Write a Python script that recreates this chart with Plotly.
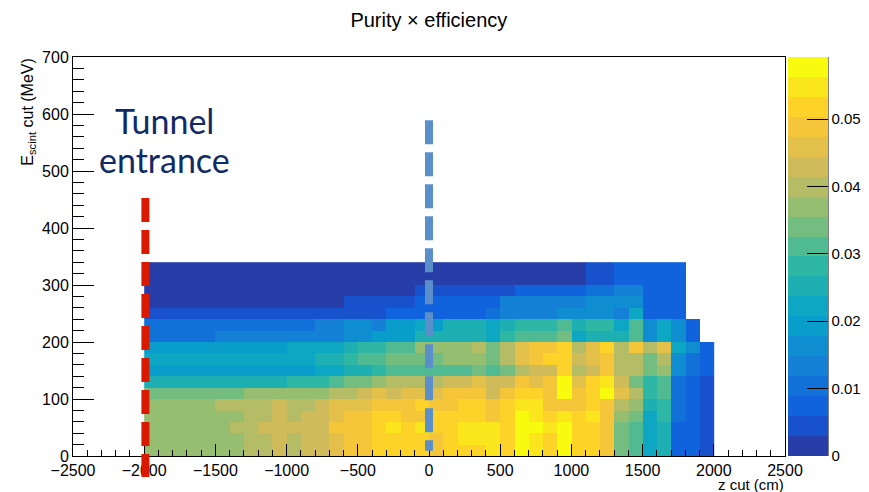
import plotly.graph_objects as go

# ---- bins ----
z_edges = [-2000 + 100 * i for i in range(41)]      # z cut (cm), 100 cm bins
e_edges = [20 * i for i in range(18)]               # E_scint cut (MeV), 20 MeV bins

x_tick_vals = [-2500, -2000, -1500, -1000, -500, 0, 500, 1000, 1500, 2000, 2500]
x_tick_text = ["\u22122500", "\u22122000", "\u22121500", "\u22121000", "\u2212500",
               "0", "500", "1000", "1500", "2000", "2500"]
y_tick_vals = [0, 100, 200, 300, 400, 500, 600, 700]
y_tick_text = ["0", "100", "200", "300", "400", "500", "600", "700"]
cb_tick_vals = [0, 0.01, 0.02, 0.03, 0.04, 0.05]
cb_tick_text = ["0", "0.01", "0.02", "0.03", "0.04", "0.05"]

N = None
# purity x efficiency, rows = E bins (bottom to top), cols = z bins (left to right)
purity_eff = [
    # E 0-20
    [0.0370, 0.0370, 0.0370, 0.0370, 0.0370, 0.0370, 0.0370, 0.0400,
     0.0400, 0.0429, 0.0400, 0.0429, 0.0429, 0.0459, 0.0488, 0.0488,
     0.0518, 0.0518, 0.0518, 0.0518, 0.0488, 0.0518, 0.0518, 0.0518,
     0.0548, 0.0518, 0.0577, 0.0548, 0.0518, 0.0577, 0.0518, 0.0518,
     0.0488, 0.0340, 0.0311, 0.0222, 0.0252, 0.0074, 0.0074, 0.0044],
    # E 20-40
    [0.0370, 0.0370, 0.0370, 0.0370, 0.0370, 0.0370, 0.0370, 0.0400,
     0.0400, 0.0429, 0.0400, 0.0429, 0.0429, 0.0459, 0.0488, 0.0488,
     0.0518, 0.0518, 0.0518, 0.0518, 0.0488, 0.0518, 0.0548, 0.0548,
     0.0548, 0.0518, 0.0577, 0.0548, 0.0518, 0.0577, 0.0518, 0.0518,
     0.0488, 0.0340, 0.0311, 0.0222, 0.0252, 0.0074, 0.0074, 0.0044],
    # E 40-60
    [0.0370, 0.0370, 0.0370, 0.0370, 0.0370, 0.0370, 0.0400, 0.0400,
     0.0429, 0.0429, 0.0429, 0.0429, 0.0429, 0.0488, 0.0488, 0.0488,
     0.0518, 0.0548, 0.0518, 0.0548, 0.0518, 0.0518, 0.0548, 0.0548,
     0.0548, 0.0518, 0.0577, 0.0577, 0.0548, 0.0577, 0.0518, 0.0518,
     0.0488, 0.0340, 0.0311, 0.0222, 0.0252, 0.0074, 0.0074, 0.0044],
    # E 60-80
    [0.0370, 0.0370, 0.0370, 0.0370, 0.0370, 0.0370, 0.0370, 0.0400,
     0.0400, 0.0429, 0.0400, 0.0429, 0.0429, 0.0459, 0.0488, 0.0488,
     0.0518, 0.0518, 0.0488, 0.0488, 0.0518, 0.0518, 0.0518, 0.0518,
     0.0488, 0.0518, 0.0577, 0.0548, 0.0518, 0.0548, 0.0518, 0.0548,
     0.0488, 0.0370, 0.0340, 0.0222, 0.0281, 0.0104, 0.0074, 0.0044],
    # E 80-100
    [0.0370, 0.0370, 0.0370, 0.0370, 0.0370, 0.0400, 0.0400, 0.0400,
     0.0400, 0.0429, 0.0400, 0.0400, 0.0429, 0.0459, 0.0459, 0.0459,
     0.0488, 0.0488, 0.0488, 0.0518, 0.0488, 0.0488, 0.0518, 0.0518,
     0.0488, 0.0518, 0.0548, 0.0548, 0.0488, 0.0488, 0.0488, 0.0518,
     0.0488, 0.0400, 0.0370, 0.0252, 0.0281, 0.0104, 0.0074, 0.0044],
    # E 100-120
    [0.0340, 0.0340, 0.0340, 0.0340, 0.0340, 0.0340, 0.0340, 0.0370,
     0.0370, 0.0370, 0.0370, 0.0370, 0.0370, 0.0400, 0.0400, 0.0429,
     0.0459, 0.0429, 0.0459, 0.0459, 0.0459, 0.0488, 0.0488, 0.0488,
     0.0429, 0.0488, 0.0518, 0.0518, 0.0488, 0.0577, 0.0488, 0.0518,
     0.0577, 0.0459, 0.0400, 0.0281, 0.0311, 0.0104, 0.0074, 0.0044],
    # E 120-140
    [0.0252, 0.0252, 0.0252, 0.0252, 0.0252, 0.0252, 0.0252, 0.0252,
     0.0252, 0.0252, 0.0281, 0.0281, 0.0281, 0.0311, 0.0340, 0.0340,
     0.0370, 0.0400, 0.0400, 0.0400, 0.0400, 0.0429, 0.0429, 0.0459,
     0.0429, 0.0429, 0.0488, 0.0459, 0.0488, 0.0577, 0.0459, 0.0518,
     0.0548, 0.0429, 0.0340, 0.0281, 0.0311, 0.0104, 0.0074, 0.0044],
    # E 140-160
    [0.0192, 0.0192, 0.0192, 0.0192, 0.0192, 0.0192, 0.0192, 0.0192,
     0.0192, 0.0192, 0.0192, 0.0192, 0.0222, 0.0222, 0.0252, 0.0252,
     0.0281, 0.0311, 0.0311, 0.0311, 0.0311, 0.0311, 0.0311, 0.0340,
     0.0311, 0.0340, 0.0400, 0.0429, 0.0429, 0.0518, 0.0400, 0.0429,
     0.0488, 0.0400, 0.0400, 0.0340, 0.0370, 0.0163, 0.0104, 0.0074],
    # E 160-180
    [0.0222, 0.0222, 0.0222, 0.0222, 0.0222, 0.0222, 0.0222, 0.0222,
     0.0222, 0.0222, 0.0222, 0.0222, 0.0252, 0.0252, 0.0281, 0.0311,
     0.0311, 0.0340, 0.0340, 0.0340, 0.0340, 0.0370, 0.0370, 0.0370,
     0.0340, 0.0400, 0.0459, 0.0488, 0.0518, 0.0518, 0.0429, 0.0459,
     0.0488, 0.0400, 0.0400, 0.0340, 0.0400, 0.0163, 0.0104, 0.0074],
    # E 180-200
    [0.0192, 0.0192, 0.0192, 0.0192, 0.0192, 0.0192, 0.0192, 0.0192,
     0.0192, 0.0192, 0.0222, 0.0222, 0.0222, 0.0222, 0.0252, 0.0281,
     0.0281, 0.0311, 0.0311, 0.0370, 0.0370, 0.0370, 0.0370, 0.0400,
     0.0340, 0.0400, 0.0459, 0.0488, 0.0488, 0.0518, 0.0400, 0.0459,
     0.0518, 0.0400, 0.0488, 0.0400, 0.0459, 0.0222, 0.0163, 0.0074],
    # E 200-220
    [0.0104, 0.0104, 0.0104, 0.0104, 0.0104, 0.0133, 0.0133, 0.0133,
     0.0133, 0.0133, 0.0133, 0.0133, 0.0133, 0.0133, 0.0163, 0.0163,
     0.0192, 0.0192, 0.0192, 0.0252, 0.0252, 0.0252, 0.0252, 0.0252,
     0.0222, 0.0281, 0.0311, 0.0311, 0.0311, 0.0340, 0.0222, 0.0252,
     0.0252, 0.0252, 0.0311, 0.0163, 0.0222, 0.0163, 0.0074, N],
    # E 220-240
    [0.0104, 0.0104, 0.0104, 0.0104, 0.0104, 0.0104, 0.0104, 0.0104,
     0.0104, 0.0104, 0.0104, 0.0104, 0.0133, 0.0133, 0.0163, 0.0163,
     0.0133, 0.0192, 0.0192, 0.0222, 0.0192, 0.0252, 0.0252, 0.0252,
     0.0222, 0.0252, 0.0281, 0.0281, 0.0281, 0.0311, 0.0252, 0.0281,
     0.0281, 0.0222, 0.0311, 0.0163, 0.0222, 0.0163, 0.0074, N],
    # E 240-260
    [0.0044, 0.0044, 0.0044, 0.0044, 0.0044, 0.0044, 0.0044, 0.0044,
     0.0044, 0.0044, 0.0044, 0.0044, 0.0044, 0.0044, 0.0044, 0.0044,
     0.0044, 0.0074, 0.0074, 0.0074, 0.0074, 0.0074, 0.0074, 0.0074,
     0.0104, 0.0133, 0.0133, 0.0133, 0.0133, 0.0163, 0.0163, 0.0163,
     0.0163, 0.0133, 0.0222, 0.0074, 0.0074, 0.0074, N, N],
    # E 260-280
    [0.0015, 0.0015, 0.0015, 0.0015, 0.0015, 0.0015, 0.0015, 0.0015,
     0.0015, 0.0015, 0.0015, 0.0015, 0.0015, 0.0015, 0.0044, 0.0044,
     0.0044, 0.0044, 0.0044, 0.0074, 0.0074, 0.0074, 0.0074, 0.0074,
     0.0074, 0.0133, 0.0133, 0.0133, 0.0133, 0.0133, 0.0133, 0.0163,
     0.0163, 0.0163, 0.0163, 0.0074, 0.0074, 0.0074, N, N],
    # E 280-300
    [0.0015, 0.0015, 0.0015, 0.0015, 0.0015, 0.0015, 0.0015, 0.0015,
     0.0015, 0.0015, 0.0015, 0.0015, 0.0015, 0.0015, 0.0015, 0.0015,
     0.0015, 0.0015, 0.0015, 0.0044, 0.0044, 0.0044, 0.0044, 0.0044,
     0.0044, 0.0044, 0.0074, 0.0074, 0.0074, 0.0074, 0.0074, 0.0104,
     0.0104, 0.0133, 0.0133, 0.0074, 0.0074, 0.0074, N, N],
    # E 300-320
    [0.0015, 0.0015, 0.0015, 0.0015, 0.0015, 0.0015, 0.0015, 0.0015,
     0.0015, 0.0015, 0.0015, 0.0015, 0.0015, 0.0015, 0.0015, 0.0015,
     0.0015, 0.0015, 0.0015, 0.0015, 0.0015, 0.0015, 0.0015, 0.0015,
     0.0015, 0.0015, 0.0015, 0.0015, 0.0015, 0.0015, 0.0015, 0.0044,
     0.0044, 0.0074, 0.0074, 0.0074, 0.0074, 0.0074, N, N],
    # E 320-340
    [0.0015, 0.0015, 0.0015, 0.0015, 0.0015, 0.0015, 0.0015, 0.0015,
     0.0015, 0.0015, 0.0015, 0.0015, 0.0015, 0.0015, 0.0015, 0.0015,
     0.0015, 0.0015, 0.0015, 0.0015, 0.0015, 0.0015, 0.0015, 0.0015,
     0.0015, 0.0015, 0.0015, 0.0015, 0.0015, 0.0015, 0.0015, 0.0044,
     0.0044, 0.0074, 0.0074, 0.0074, 0.0074, 0.0074, N, N],
]
for row in purity_eff:
    assert len(row) == 40, len(row)

# ROOT kBird palette, 20 contour levels
band_colors = ["#273DA8", "#1751CB", "#1063DC", "#1271D9", "#1480D6",
               "#0E8ED1", "#099DCC", "#0DA7C3", "#1EAFB3", "#2EB7A4",
               "#50BA93", "#74BD81", "#96BE71", "#B4BC65", "#D0BB5A",
               "#E2C04A", "#F5C63A", "#FDD32A", "#FBE61D", "#F9FB0E"]
nb = len(band_colors)
colorscale = []
for i, c in enumerate(band_colors):
    colorscale.append([i / nb, c])
    colorscale.append([(i + 1) / nb, c])

ZMAX = 0.0592
FONT = "Liberation Sans, Arial, Helvetica, sans-serif"

fig = go.Figure()
fig.add_trace(go.Heatmap(
    x=z_edges, y=e_edges, z=purity_eff,
    zmin=0, zmax=ZMAX, colorscale=colorscale,
    colorbar=dict(
        x=1.0042, xanchor="left", xpad=0, ypad=0,
        y=0.5, yanchor="middle", len=1, lenmode="fraction",
        thickness=40, thicknessmode="pixels",
        outlinewidth=0,
        tickvals=cb_tick_vals, ticktext=cb_tick_text,
        ticks="inside", ticklen=21, tickwidth=1, tickcolor="black",
        tickfont=dict(family=FONT, size=15, color="black"),
    ),
    hoverongaps=False,
))

# colour-bar axis line (right edge)
fig.add_shape(type="line", xref="paper", yref="paper",
              x0=1.0604, x1=1.0604, y0=0, y1=1,
              line=dict(color="black", width=1))

# red dashed line: tunnel entrance
fig.add_shape(type="line", xref="paper", yref="paper",
              x0=0.1017, x1=0.1017, y0=0.6466, y1=-0.0526,
              line=dict(color="#D91A00", width=8, dash="24px,8px"))
# blue dashed line at z = 0
fig.add_shape(type="line", xref="x", yref="y",
              x0=0, x1=0, y0=589, y1=9,
              line=dict(color="#5B8FC9", width=8, dash="24px,8px"))

fig.add_annotation(text="Tunnel", xref="paper", yref="paper",
                   x=0.128, y=0.842, xanchor="center", yanchor="middle",
                   showarrow=False,
                   font=dict(family="Lato, sans-serif", size=34, color="#102A66"))
fig.add_annotation(text="entrance", xref="paper", yref="paper",
                   x=0.128, y=0.742, xanchor="center", yanchor="middle",
                   showarrow=False,
                   font=dict(family="Lato, sans-serif", size=34, color="#102A66"))

# axis titles (ROOT style, aligned at the axis end)
fig.add_annotation(text="z cut (cm)", xref="paper", yref="paper",
                   x=1.0, y=-0.0715, xanchor="right", yanchor="middle",
                   showarrow=False, borderpad=0,
                   font=dict(family=FONT, size=15, color="black"))
fig.add_annotation(text="E<sub>scint</sub> cut (MeV)", xref="paper", yref="paper",
                   x=-0.063, y=1.0, xanchor="center", yanchor="top", textangle=-90,
                   showarrow=False, font=dict(family=FONT, size=16, color="black"))

# page has an 8 px body margin: figure is sized/offset so the plot area
# lands at 73..785 x 57..456 in the window
fig.update_layout(
    width=861, height=484,
    margin=dict(l=65, r=84, t=49, b=36, autoexpand=False),
    paper_bgcolor="white", plot_bgcolor="white",
    font=dict(family=FONT, size=16, color="black"),
    title=dict(text="Purity \u00d7 efficiency", x=0.4888, xanchor="center",
               y=0.975, yanchor="middle",
               font=dict(family=FONT, size=20, color="black")),
    showlegend=False,
)
fig.update_xaxes(
    range=[-2500, 2500], tickvals=x_tick_vals, ticktext=x_tick_text,
    ticks="inside", ticklen=12, tickwidth=1, tickcolor="black",
    minor=dict(dtick=100, tick0=0, ticks="inside", ticklen=6, tickcolor="black", showgrid=False),
    showline=True, linecolor="black", linewidth=1, mirror=True,
    showgrid=False, zeroline=False,
    tickfont=dict(family=FONT, size=16, color="black"),
)
fig.update_yaxes(
    range=[0, 700], tickvals=y_tick_vals, ticktext=y_tick_text,
    ticks="inside", ticklen=21, tickwidth=1, tickcolor="black",
    minor=dict(dtick=20, tick0=0, ticks="inside", ticklen=11, tickcolor="black", showgrid=False),
    showline=True, linecolor="black", linewidth=1, mirror=True,
    showgrid=False, zeroline=False,
    tickfont=dict(family=FONT, size=16, color="black"),
)

fig.write_html("out.html")
